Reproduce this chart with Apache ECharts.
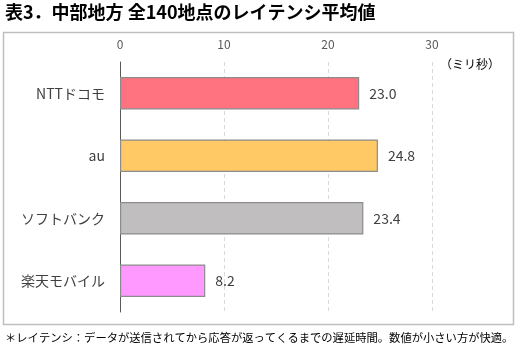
<!DOCTYPE html>
<html>
<head>
<meta charset="utf-8">
<script src="https://cdn.jsdelivr.net/npm/echarts@6/dist/echarts.min.js"></script>
<style>
  html, body { margin: 0; padding: 0; background: #fff; }
  #chart { width: 522px; height: 354px; }
</style>
</head>
<body>
<div id="chart"></div>
<script>
const carriers = ['NTTドコモ', 'au', 'ソフトバンク', '楽天モバイル'];
const latency = [23.0, 24.8, 23.4, 8.2];
const barColors = ['#FF7380', '#FFC966', '#C0BEBF', '#FF99FF'];
const axisTicks = [0, 10, 20, 30];

const font = '"Noto Sans CJK JP", "Noto Sans", sans-serif';

const chart = echarts.init(document.getElementById('chart'));

chart.setOption({
  animation: false,
  textStyle: { fontFamily: font },
  graphic: [
    {
      type: 'rect',
      shape: { x: 3.5, y: 32.5, width: 510, height: 292 },
      style: { fill: 'none', stroke: '#BFBFBF', lineWidth: 1.5 },
      z: 0
    },
    {
      type: 'text', left: 5, top: 3,
      style: { text: '表3．中部地方 全140地点のレイテンシ平均値', font: 'bold 18px ' + font, fill: '#000' }
    },
    {
      type: 'text', left: 440, top: 58,
      style: { text: '（ミリ秒）', font: '12px ' + font, fill: '#000' }
    },
    {
      type: 'text', left: 5, top: 332,
      style: { text: '＊レイテンシ：データが送信されてから応答が返ってくるまでの遅延時間。数値が小さい方が快適。', font: '11.3px ' + font, fill: '#000' }
    }
  ],
  grid: { left: 120, right: 90, top: 62, bottom: 42, containLabel: false },
  xAxis: {
    type: 'value',
    position: 'top',
    min: axisTicks[0],
    max: axisTicks[axisTicks.length - 1],
    interval: 10,
    axisLine: { show: false },
    axisTick: { show: false },
    axisLabel: { color: '#595959', fontSize: 12, margin: 12 },
    splitLine: { lineStyle: { color: '#D9D9D9', type: [4, 3] } }
  },
  yAxis: {
    type: 'category',
    inverse: true,
    data: carriers,
    axisLine: { show: true, lineStyle: { color: '#595959', width: 1 } },
    axisTick: { show: false },
    axisLabel: { color: '#404040', fontSize: 14, margin: 15 }
  },
  series: [{
    type: 'bar',
    data: latency.map((v, i) => ({
      value: v,
      itemStyle: { color: barColors[i] }
    })),
    barWidth: '52%',
    itemStyle: { borderColor: '#8C8C8C', borderWidth: 1.2 },
    label: {
      show: true,
      position: 'right',
      distance: 10,
      color: '#404040',
      fontSize: 14,
      formatter: p => p.value.toFixed(1)
    }
  }]
});
</script>
</body>
</html>
